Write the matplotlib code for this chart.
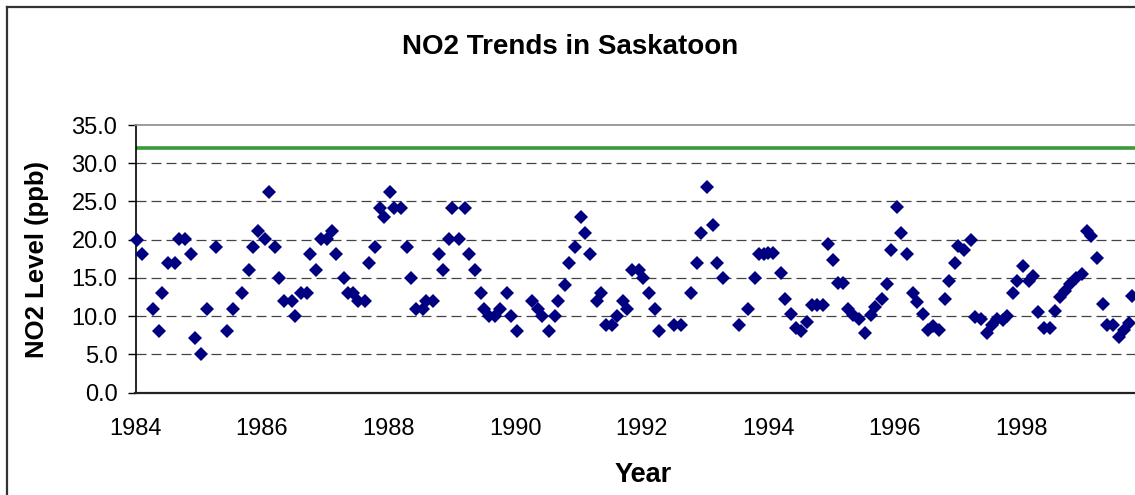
import matplotlib
matplotlib.use("Agg")
import matplotlib.pyplot as plt
from matplotlib.lines import Line2D

plt.rcParams['font.family'] = ['Liberation Sans', 'DejaVu Sans']

# ---- data (decimal year, NO2 ppb) ----
years = [
    1984.02, 1984.11, 1984.27, 1984.37, 1984.42, 1984.52, 1984.62, 1984.68, 1984.78, 1984.88,
    1984.94, 1985.04, 1985.13, 1985.28, 1985.44, 1985.54, 1985.69, 1985.79, 1985.85, 1985.94,
    1986.05, 1986.11, 1986.21, 1986.27, 1986.35, 1986.47, 1986.52, 1986.61, 1986.71, 1986.76,
    1986.86, 1986.94, 1987.02, 1987.11, 1987.17, 1987.29, 1987.36, 1987.44, 1987.52,
    1987.63, 1987.69, 1987.79, 1987.87, 1987.93, 1988.03, 1988.09, 1988.20, 1988.29, 1988.35,
    1988.43, 1988.55, 1988.59, 1988.71, 1988.79, 1988.86, 1988.95, 1989.01, 1989.11, 1989.21,
    1989.27, 1989.36, 1989.46, 1989.51, 1989.59, 1989.68, 1989.76, 1989.87, 1989.93, 1990.03,
    1990.27, 1990.37, 1990.43, 1990.53, 1990.63, 1990.68, 1990.79, 1990.85, 1990.95, 1991.04,
    1991.11, 1991.19, 1991.29,
    1991.36, 1991.44, 1991.54, 1991.61, 1991.70, 1991.77, 1991.85, 1991.96, 1992.03, 1992.11,
    1992.21, 1992.27, 1992.52, 1992.62, 1992.78, 1992.87, 1992.94, 1993.03, 1993.13, 1993.19,
    1993.28, 1993.54, 1993.69, 1993.79, 1993.85, 1993.93, 1994.00, 1994.08, 1994.20, 1994.26,
    1994.36, 1994.44, 1994.52, 1994.61, 1994.69, 1994.77, 1994.87, 1994.95, 1995.02, 1995.10,
    1995.19, 1995.27, 1995.35, 1995.44, 1995.53, 1995.62, 1995.69, 1995.80, 1995.88, 1995.94,
    1996.03, 1996.10, 1996.19, 1996.29, 1996.35, 1996.45, 1996.53, 1996.61, 1996.70, 1996.79,
    1996.86, 1996.95, 1997.00, 1997.10, 1997.20, 1997.27, 1997.37, 1997.46, 1997.54, 1997.62,
    1997.72, 1997.78, 1997.87, 1997.93, 1998.03, 1998.12, 1998.19, 1998.27, 1998.36, 1998.46,
    1998.54, 1998.62, 1998.70, 1998.78, 1998.86, 1998.96, 1999.04, 1999.10, 1999.20, 1999.29,
    1999.36, 1999.46, 1999.54, 1999.62, 1999.70, 1999.76,
]
no2 = [
    20.0, 18.1, 11.0, 8.1, 13.1, 17.0, 17.0, 20.1, 20.1, 18.1,
    7.1, 5.0, 11.0, 19.1, 8.1, 11.0, 13.1, 16.0, 19.1, 21.1,
    20.1, 26.2, 19.1, 15.0, 12.0, 12.0, 10.0, 13.1, 13.1, 18.1,
    16.0, 20.1, 20.1, 21.1, 18.1, 15.0, 13.1, 13.0, 12.0,
    12.0, 17.0, 19.1, 24.1, 23.0, 26.2, 24.1, 24.1, 19.1, 15.0,
    11.0, 11.0, 12.0, 12.0, 18.1, 16.0, 20.1, 24.1, 20.1, 24.1,
    18.1, 16.0, 13.1, 11.0, 10.0, 10.0, 11.0, 13.1, 10.0, 8.1,
    12.0, 11.0, 10.0, 8.1, 10.0, 12.0, 14.1, 17.0, 19.1, 23.0,
    20.9, 18.1, 12.0,
    13.1, 8.9, 8.9, 10.0, 12.0, 11.0, 16.0, 16.0, 15.0, 13.1,
    11.0, 8.1, 8.9, 8.9, 13.1, 17.0, 20.9, 26.9, 21.9, 17.0,
    15.0, 8.9, 11.0, 15.0, 18.1, 18.1, 18.2, 18.3, 15.7, 12.3,
    10.3, 8.4, 8.1, 9.2, 11.5, 11.5, 11.5, 19.4, 17.3, 14.4,
    14.4, 11.0, 10.2, 9.6, 7.8, 10.2, 11.2, 12.3, 14.2, 18.6,
    24.3, 20.9, 18.1, 13.0, 11.8, 10.3, 8.2, 8.7, 8.2, 12.3,
    14.6, 17.0, 19.2, 18.7, 20.0, 9.9, 9.7, 7.8, 8.8, 9.7,
    9.5, 10.0, 13.1, 14.6, 16.5, 14.6, 15.3, 10.5, 8.4, 8.4,
    10.7, 12.5, 13.3, 14.2, 15.0, 15.5, 21.1, 20.5, 17.6, 11.6,
    8.8, 8.8, 7.3, 8.2, 9.1, 12.6,
]
standard_level = 32.0
x_ticks = [1984, 1986, 1988, 1990, 1992, 1994, 1996, 1998]
y_ticks = [0, 5, 10, 15, 20, 25, 30, 35]

W, H = 1135, 495
fig = plt.figure(figsize=(W / 100, H / 100), dpi=100)
fig.patch.set_facecolor('white')

# outer chart border (cropped on right and bottom)
fig.add_artist(Line2D([7 / W, 7 / W], [1 - 7 / H, -0.05], transform=fig.transFigure,
                      color='#333333', lw=1.6))
fig.add_artist(Line2D([7 / W, 1.05], [1 - 7 / H, 1 - 7 / H], transform=fig.transFigure,
                      color='#333333', lw=1.6))

left, right = 135.5, 1135
bottom, top = 392.7, 125
ax = fig.add_axes([left / W, 1 - bottom / H, (right - left) / W, (bottom - top) / H])
ax.set_facecolor('white')

ax.set_xlim(1984, 1999.8)
ax.set_ylim(0, 35)

for yv in y_ticks[1:-1]:
    ax.axhline(yv, color='#444444', lw=0.9, ls=(0, (8, 4)), zorder=1)

ax.axhline(standard_level, color='#3a9a3a', lw=2.6, zorder=2)

ax.plot(years, no2, ls='none', marker='D', ms=7.4, color='#000080',
        markeredgewidth=0, zorder=3, clip_on=False)

ax.set_xticks(x_ticks)
ax.set_xticklabels([str(t) for t in x_ticks])
ax.set_yticks(y_ticks)
ax.set_yticklabels([f"{t:.1f}" for t in y_ticks])
ax.tick_params(axis='x', length=0, pad=18, labelsize=17)
ax.tick_params(axis='y', length=6, width=1, pad=7, labelsize=17, direction='out')

ax.spines['right'].set_visible(False)
ax.spines['top'].set_color('#8a8a8a')
ax.spines['top'].set_linewidth(1.2)
ax.spines['left'].set_color('black')
ax.spines['left'].set_linewidth(1.2)
ax.spines['bottom'].set_color('#222222')
ax.spines['bottom'].set_linewidth(1.6)

fig.text(570 / W, 1 - 47 / H, 'NO2 Trends in Saskatoon', ha='center', va='center',
         fontsize=20, fontweight='bold')
fig.text(643 / W, 1 - 475 / H, 'Year', ha='center', va='center',
         fontsize=19.5, fontweight='bold')
fig.text(37 / W, 1 - 260 / H, 'NO2 Level (ppb)', ha='center', va='center',
         rotation=90, fontsize=18.5, fontweight='bold')

fig.savefig('out.png', dpi=100)
